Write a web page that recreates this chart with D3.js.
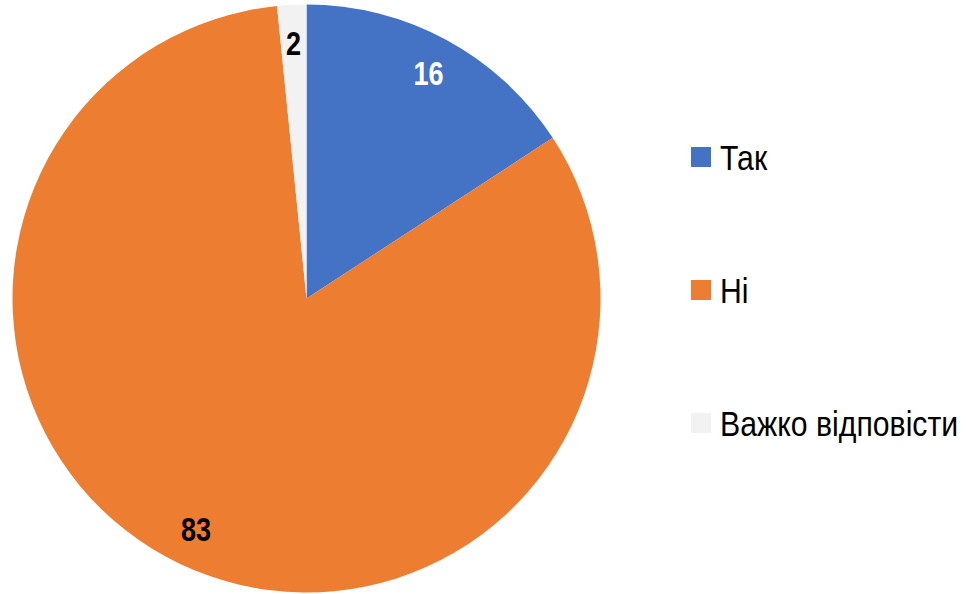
<!DOCTYPE html>
<html><head><meta charset="utf-8">
<script src="https://cdn.jsdelivr.net/npm/d3@7"></script>
<style>
body{margin:0;background:#fff;}
svg text{font-family:"Liberation Sans Narrow","Arial Narrow","Liberation Sans",Arial,sans-serif;}
</style></head>
<body><svg id="c" width="966" height="594"></svg>
<script>
const categories = ["Так", "Ні", "Важко відповісти"];
const values = [15.8, 82.6, 1.6];
const colors = ["#4472C4", "#ED7D31", "#F2F2F2"];
const labelColors = ["#ffffff", "#000000", "#000000"];

const svg = d3.select("#c");
const cx = 306.5, cy = 298.5, r = 294;
const narrow = 0.82;
const data = categories.map((c, i) => ({cat: c, value: values[i], i}));
const pie = d3.pie().value(d => d.value).sort(null);
const arcs = pie(data);
const arc = d3.arc().innerRadius(0).outerRadius(r);
const labelArc = d3.arc().innerRadius(256).outerRadius(256);
const g = svg.append("g").attr("transform", `translate(${cx},${cy})`);
g.selectAll("path").data(arcs).join("path")
  .attr("d", arc).attr("fill", d => colors[d.data.i]);
g.selectAll("text").data(arcs).join("text")
  .attr("transform", d => `translate(${labelArc.centroid(d)}) scale(${narrow},1)`)
  .attr("text-anchor", "middle").attr("dy", "0.36em")
  .attr("font-size", 33).attr("font-weight", "bold")
  .attr("fill", d => labelColors[d.data.i])
  .text(d => d3.format(".0f")(d.data.value));

const leg = svg.append("g");
const ly = d3.scalePoint().domain(categories).range([157, 423]);
const items = leg.selectAll("g").data(categories).join("g")
  .attr("transform", d => `translate(691,${ly(d)})`);
items.append("rect").attr("x", 0).attr("y", -10).attr("width", 20).attr("height", 20)
  .attr("fill", (d, i) => colors[i]);
items.append("text").attr("transform", `translate(29,0) scale(0.84,1)`).attr("dy", "0.36em")
  .attr("font-size", 36).attr("fill", "#000").text(d => d);
</script></body></html>
